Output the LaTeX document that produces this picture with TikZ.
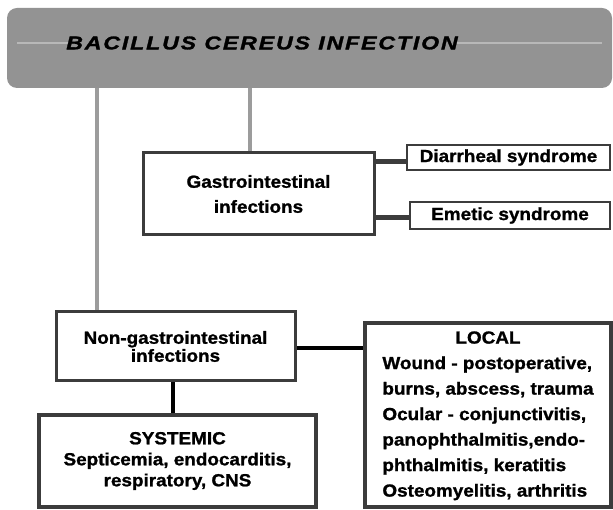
\documentclass[tikz,border=0pt]{standalone}
\usepackage{fontspec}
\setmainfont{Liberation Sans}
\newfontfamily\lblfont{Liberation Sans}[FakeStretch=1.08,FakeBold=1.2]
\newfontfamily\ttlfont{Liberation Sans}[FakeStretch=1.25,LetterSpace=10,FakeBold=1.5]
\definecolor{bannergray}{HTML}{939393}
\definecolor{linkgray}{HTML}{9C9C9C}
\definecolor{edgegray}{HTML}{3C3C3C}
\tikzset{
  box/.style={draw=edgegray, line width=3pt, fill=white, inner sep=0pt,
    align=center, font=\lblfont\bfseries\fontsize{17.5}{25}\selectfont},
  smallbox/.style={box, line width=2.6pt},
  bigbox/.style={box, line width=4pt},
  banlink/.style={draw=linkgray, line width=4pt},
  darklink/.style={draw=edgegray, line width=5pt},
  blacklink/.style={draw=black, line width=4pt},
  ttlstyle/.style={font=\ttlfont\bfseries\itshape\fontsize{18.5}{18.5}\selectfont, inner sep=0pt},
}
\begin{document}
\begin{tikzpicture}[x=1pt,y=-1pt]
\useasboundingbox (0,0) rectangle (613,510);
% banner
\node[fill=bannergray, rounded corners=10pt, minimum width=605pt, minimum height=80pt, inner sep=0pt] (ban) at (309.5,48) {};
\draw[white, opacity=0.35, line width=2pt] (ban.west |- 0,43) ++(10,0) coordinate (hl1) -- (70,43) coordinate (hl2);
\draw[white, opacity=0.35, line width=2pt] (455,43) coordinate (hl3) -- ([xshift=-10pt]ban.east |- 0,43) coordinate (hl4);
\node[ttlstyle, text=black] (ttl) at (262,43) {BACILLUS CEREUS INFECTION};
% boxes
\node[box, minimum width=231pt, minimum height=82pt] (gi) at (258.5,194) {Gastrointestinal\\infections};
\node[smallbox, minimum width=203pt, minimum height=25pt] (dia) at (508.5,157.5) {Diarrheal syndrome};
\node[smallbox, minimum width=200pt, minimum height=27pt] (eme) at (510,215.5) {Emetic syndrome};
\node[box, minimum width=239pt, minimum height=69pt, font=\lblfont\bfseries\fontsize{17.5}{18}\selectfont] (ngi) at (175.5,346.5) {Non-gastrointestinal\\infections};
\node[bigbox, minimum width=277pt, minimum height=92pt, font=\lblfont\bfseries\fontsize{17.5}{21}\selectfont] (sys) at (177.5,461) {SYSTEMIC\\Septicemia, endocarditis,\\respiratory, CNS};
\node[bigbox, minimum width=246pt, minimum height=184pt, font=\lblfont\bfseries\fontsize{17.5}{25.5}\selectfont] (loc) at (488,415) {\begin{tabular}{@{}l@{}}\multicolumn{1}{@{}c@{}}{LOCAL}\\Wound - postoperative,\\burns, abscess, trauma\\Ocular - conjunctivitis,\\panophthalmitis,endo-\\phthalmitis, keratitis\\Osteomyelitis, arthritis\end{tabular}};
% connectors
\coordinate (c1) at (97,88);
\coordinate (c2) at (250,88);
\draw[banlink] (c1) -- (c1 |- ngi.north);
\draw[banlink] (c2) -- (c2 |- gi.north);
\draw[darklink] ([yshift=-4.5pt]dia.west -| gi.east) -- ([yshift=-4.5pt]dia.west);
\draw[darklink] ([yshift=-2.5pt]eme.west -| gi.east) -- ([yshift=-2.5pt]eme.west);
\draw[blacklink] ([yshift=-1.5pt]ngi.east) -- ([yshift=-1.5pt]ngi.east -| loc.west);
\draw[blacklink] ([xshift=-2.5pt]ngi.south) -- ([xshift=-2.5pt]ngi.south |- sys.north);
\end{tikzpicture}
\end{document}
